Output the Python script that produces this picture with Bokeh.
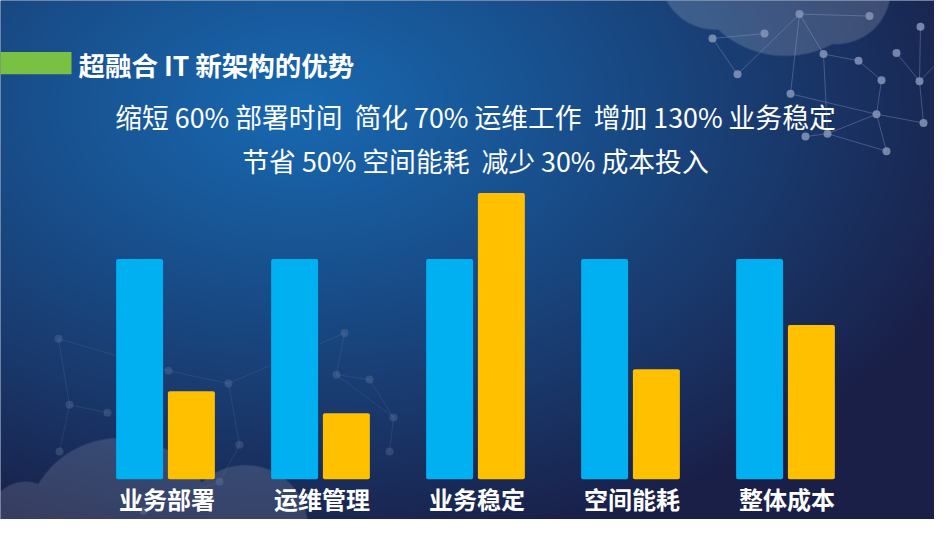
import numpy as np

from bokeh.plotting import figure
from bokeh.models import ColumnDataSource, FactorRange, Range1d
from bokeh.transform import dodge
from bokeh.core.properties import value
from bokeh.embed import file_html
from bokeh.resources import INLINE

# chart data
categories = ["业务部署", "运维管理", "业务稳定", "空间能耗", "整体成本"]
before = [100, 100, 100, 100, 100]
after = [40, 30, 130, 50, 70]

title = "超融合 IT 新架构的优势"
subtitle_lines = ["缩短 60% 部署时间 \u00a0简化 70% 运维工作 \u00a0增加 130% 业务稳定",
                  "节省 50% 空间能耗 \u00a0减少 30% 成本投入"]

W, H = 934, 519
FONT = "Noto Sans CJK SC"
BLUE = "#00b0f0"
YELLOW = "#ffc000"

# layout is measured on a 950x535 slide; squeeze vertically to fit
KY = 0.972
group_px = 155
pad = (W / group_px - len(categories)) / 2
x0, x_span = -pad, len(categories) + 2 * pad
shift = (475 - W / 2) / group_px          # whole group row sits a bit right
unit_px = 2.265 * KY                      # 100 units = 226.5px on the slide
base_px = 492.5 * KY
y1 = base_px / unit_px
y0 = -(H - base_px) / unit_px


def X(sx):
    return x0 + sx / W * x_span


def Y(sy):
    return y1 - sy * KY / H * (y1 - y0)


# background: radial blue gradient with two soft clouds baked in
jj, ii = np.mgrid[0:H, 0:W]
sx = ii + 0.5
sy = (jj + 0.5) / KY
t = np.sqrt(((sx - 300) / 720) ** 2 + ((sy - 110) / 470) ** 2)
t = np.clip(t, 0, 1) ** 1.1
c0 = np.array([0x18, 0x68, 0xb0], dtype=float)
c1 = np.array([0x1a, 0x1f, 0x47], dtype=float)
rgb = c0 + (c1 - c0) * t[..., None]


def cloud_mask(circles):
    m = np.zeros((H, W))
    for cx, cy, r in circles:
        d = np.sqrt((sx - cx) ** 2 + (sy - cy) ** 2)
        m = np.maximum(m, np.clip(r - d + 0.5, 0, 1))
    return m


top_cloud = cloud_mask([(715, -25, 55), (785, -40, 97), (835, -10, 55)])
low_cloud = cloud_mask([(25, 530, 35), (120, 545, 95), (245, 540, 62)])
for m, a in [(top_cloud, 0.16), (low_cloud, 0.13)]:
    rgb = rgb + (255 - rgb) * (m * a)[..., None]

rgba = np.empty((H, W, 4), dtype=np.uint8)
rgba[..., :3] = np.clip(rgb, 0, 255).astype(np.uint8)
rgba[..., 3] = 255
img = np.flipud(rgba).copy().view(np.uint32).reshape(H, W)

p = figure(width=W, height=H,
           x_range=FactorRange(factors=categories, range_padding=2 * pad / len(categories)),
           y_range=Range1d(y0, y1),
           x_axis_location=None, y_axis_location=None,
           toolbar_location=None, output_backend="svg",
           min_border=0, outline_line_color=None,
           background_fill_color="#1a3a70", border_fill_color="#1a3a70")
p.grid.visible = False

p.image_rgba(image=[img], x=x0, y=y0, dw=x_span, dh=y1 - y0)

# network decoration
net_top = [(712, 39), (737, 76), (764, 34), (799, 14), (869, 16), (823, 55),
           (858, 62), (881, 82), (896, 54), (920, 27), (919, 83), (939, 62),
           (790, 96), (876, 117), (923, 126), (827, 137), (805, 140), (886, 155)]
edges_top = [(0, 1), (0, 2), (1, 3), (3, 4), (3, 5), (5, 6), (6, 7), (5, 15),
             (12, 3), (12, 13), (13, 14), (13, 15), (15, 16), (15, 17), (13, 17),
             (7, 13), (8, 10), (9, 10), (10, 11), (10, 14)]
net_low = [(58, 348), (69, 416), (107, 424), (59, 464), (168, 381), (228, 394),
           (239, 457), (219, 495), (344, 342), (336, 385), (369, 390), (393, 429),
           (389, 464), (143, 525)]
edges_low = [(0, 1), (0, 4), (1, 3), (1, 2), (4, 5), (5, 6), (6, 7), (5, 8),
             (8, 9), (9, 10), (10, 11), (11, 12), (9, 11), (7, 13)]

for pts, edges, la, da in [(net_top, edges_top, 0.35, 0.85), (net_low, edges_low, 0.12, 0.25)]:
    p.multi_line([[X(pts[a][0]), X(pts[b][0])] for a, b in edges],
                 [[Y(pts[a][1]), Y(pts[b][1])] for a, b in edges],
                 line_color="#9aaad0", line_alpha=la, line_width=1)
    p.scatter([X(q[0]) for q in pts], [Y(q[1]) for q in pts], size=8,
              fill_color="#8595b8", fill_alpha=da, line_color=None)

# bars
src = ColumnDataSource(dict(cat=categories, before=before, after=after))
p.vbar(x=dodge("cat", shift - 0.167, range=p.x_range), top="before", width=0.303,
       source=src, fill_color=BLUE, line_color=None, border_radius=2)
p.vbar(x=dodge("cat", shift + 0.167, range=p.x_range), top="after", width=0.303,
       source=src, fill_color=YELLOW, line_color=None, border_radius=2)

# category labels
p.text(x=dodge("cat", shift + 0.01, range=p.x_range), y=Y(512), text="cat", source=src,
       text_font=value(FONT), text_font_style="bold", text_font_size="24px",
       text_color="white", text_align="center", text_baseline="middle")

# heading
p.quad(left=X(-2), right=X(71), bottom=Y(76), top=Y(53), fill_color="#7ac143", line_color=None)
p.text(x=[X(78)], y=[Y(66)], text=[title], text_font=value(FONT),
       text_font_style="bold", text_font_size="26.5px", text_color="white",
       text_align="left", text_baseline="middle")
p.text(x=[X(475), X(475)], y=[Y(119), Y(165)], text=subtitle_lines, text_font=value(FONT),
       text_font_size="26.8px", text_color="white",
       text_align="center", text_baseline="middle")

open("out.html", "w").write(file_html(p, INLINE))
